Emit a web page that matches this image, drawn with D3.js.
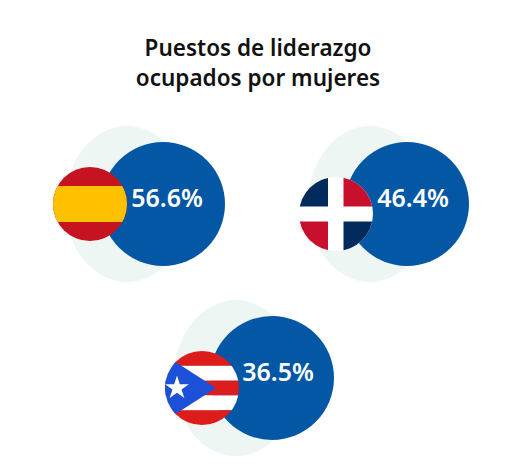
<!DOCTYPE html>
<html>
<head>
<meta charset="utf-8">
<script src="https://cdnjs.cloudflare.com/ajax/libs/d3/7.8.5/d3.min.js"></script>
<style>
  html, body { margin: 0; padding: 0; background: #fff; }
  svg { display: block; }
  text { font-family: "Noto Sans", "Open Sans", sans-serif; }
</style>
</head>
<body>
<div id="chart"></div>
<script>
var titleLines = ["Puestos de liderazgo", "ocupados por mujeres"];
var countries = ["España", "República Dominicana", "Puerto Rico"];
var values = [56.6, 46.4, 36.5];

var width = 516, height = 465;
var blue = "#0457a4", pale = "#edf6f3";

// bubble centres, all bubbles are the same size in the original
var cx = d3.scaleOrdinal().domain(countries).range([163, 407, 272]);
var cy = d3.scaleOrdinal().domain(countries).range([204, 204, 378]);
var flagDy = d3.scaleOrdinal().domain(countries).range([0, 10, 10]);
var paleDx = d3.scaleOrdinal().domain(countries).range([-36, -37, -36]);
var flagDx = d3.scaleOrdinal().domain(countries).range([-73, -71, -70]);
var labelDx = d3.scaleOrdinal().domain(countries).range([4, 6, 6]);

var svg = d3.select("#chart").append("svg")
  .attr("width", width)
  .attr("height", height);

svg.append("g").selectAll("text")
  .data(titleLines)
  .enter().append("text")
  .attr("x", 258)
  .attr("y", function(d, i) { return 56 + i * 30; })
  .attr("text-anchor", "middle")
  .attr("font-size", 22.5)
  .attr("font-weight", 600)
  .attr("fill", "#111")
  .text(function(d) { return d; });

var r = 37;

function spain(g) {
  g.append("rect").attr("x", -r).attr("y", -r).attr("width", 2 * r).attr("height", 2 * r).attr("fill", "#c5131f");
  g.append("rect").attr("x", -r).attr("y", -18).attr("width", 2 * r).attr("height", 36).attr("fill", "#ffc000");
}

function dominican(g) {
  var quads = [[-r, -r, -7.7, "#002b5c"], [-r, 0, -7.7, "#c8102e"]];
  g.append("rect").attr("x", -r).attr("y", -r).attr("width", 2 * r).attr("height", 2 * r).attr("fill", "#fff");
  // quarters around the white cross
  g.append("rect").attr("x", -r).attr("y", -r).attr("width", r - 8).attr("height", r - 7.5).attr("fill", "#002b5c");
  g.append("rect").attr("x", 7.5).attr("y", -r).attr("width", r).attr("height", r - 7.5).attr("fill", "#c8102e");
  g.append("rect").attr("x", -r).attr("y", 7.5).attr("width", r - 8).attr("height", r).attr("fill", "#c8102e");
  g.append("rect").attr("x", 7.5).attr("y", 7.5).attr("width", r).attr("height", r).attr("fill", "#002b5c");
}

function puertoRico(g) {
  var h = 2 * r / 5;
  d3.range(5).forEach(function(i) {
    g.append("rect").attr("x", -r).attr("y", -r + i * h).attr("width", 2 * r).attr("height", h + 0.2)
      .attr("fill", i % 2 ? "#fff" : "#dd1c1c");
  });
  g.append("path")
    .attr("d", d3.line()([[-r - 2, -34], [14, 0], [-r - 2, 34]]) + "Z")
    .attr("fill", "#1d50d8");
  g.append("path")
    .attr("d", d3.symbol().type(d3.symbolStar).size(175)())
    .attr("transform", "translate(-25,0)")
    .attr("fill", "#fff");
}

var flags = [spain, dominican, puertoRico];

var defs = svg.append("defs");
var bubble = svg.selectAll("g.bubble")
  .data(countries)
  .enter().append("g")
  .attr("class", "bubble")
  .attr("transform", function(d) { return "translate(" + cx(d) + "," + cy(d) + ")"; });

bubble.append("ellipse")
  .attr("cx", function(d) { return paleDx(d); })
  .attr("rx", 62)
  .attr("ry", 78)
  .attr("fill", pale);

bubble.append("circle")
  .attr("r", 62)
  .attr("fill", blue);

bubble.append("text")
  .attr("x", function(d) { return labelDx(d); })
  .attr("y", 3)
  .attr("text-anchor", "middle")
  .attr("font-size", 25)
  .attr("font-weight", 600)
  .attr("fill", "#fff")
  .text(function(d, i) { return d3.format(".1f")(values[i]) + "%"; });

bubble.each(function(d, i) {
  defs.append("clipPath").attr("id", "clip" + i).append("circle").attr("r", r);
  var g = d3.select(this).append("g")
    .attr("transform", "translate(" + flagDx(d) + "," + flagDy(d) + ")")
    .attr("clip-path", "url(#clip" + i + ")");
  flags[i](g);
});
</script>
</body>
</html>
